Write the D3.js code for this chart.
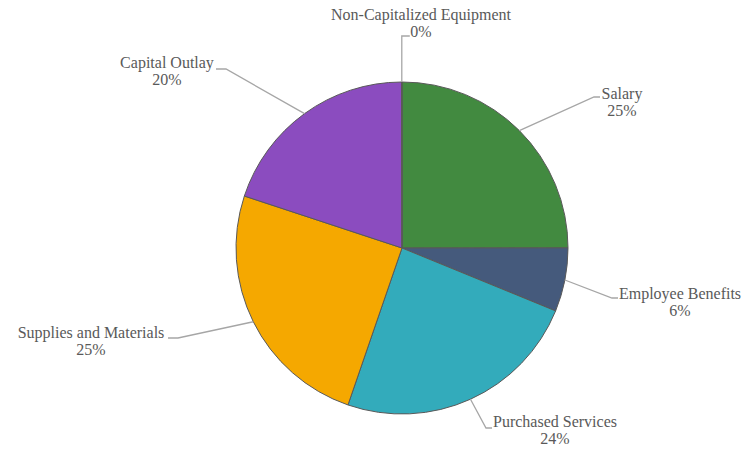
<!DOCTYPE html>
<html>
<head>
<meta charset="utf-8">
<script src="https://cdn.jsdelivr.net/npm/d3@7"></script>
<style>
  html, body { margin: 0; padding: 0; background: #fff; }
  svg { display: block; }
  text { font-family: "Liberation Serif", "Times New Roman", Times, serif; }
</style>
</head>
<body>
<svg id="chart" width="752" height="452"></svg>
<script>
// Budget share by expense category (percent), clockwise from 12 o'clock
const categories = ["Salary", "Employee Benefits", "Purchased Services", "Supplies and Materials", "Capital Outlay", "Non-Capitalized Equipment"];
const shares = [25.0, 6.2, 24.1, 24.8, 19.9, 0.04];
const shareLabels = ["25%", "6%", "24%", "25%", "20%", "0%"];
const colors = ["#428a40", "#455a7c", "#33abbb", "#f5a800", "#8b4cbf", "#c0504d"];

// Label placement: elbow point of each leader and which side the text sits on
const labelLayout = [
  { elbow: [594, 97],  side: "right", text: [622, 100] },
  { elbow: [612, 298], side: "right", text: [680, 300] },
  { elbow: [486, 428], side: "right", text: [555, 428] },
  { elbow: [178, 338], side: "left",  text: [91, 339] },
  { elbow: [226, 69],  side: "left",  text: [167, 69] },
  { elbow: [402, 36],  side: "up",    text: [421, 21] }
];

const svg = d3.select("#chart");
const cx = 402, cy = 248, radius = 166;

const data = categories.map((c, i) => ({ name: c, value: shares[i], label: shareLabels[i], color: colors[i], layout: labelLayout[i] }));

const pie = d3.pie().sort(null).value(d => d.value);
const arc = d3.arc().innerRadius(0).outerRadius(radius);
const arcs = pie(data);

const g = svg.append("g").attr("transform", `translate(${cx},${cy})`);

g.selectAll("path.slice")
  .data(arcs)
  .join("path")
  .attr("class", "slice")
  .attr("d", arc)
  .attr("fill", d => d.data.color)
  .attr("stroke", "#595959")
  .attr("stroke-width", 1);

// Leader lines: from slice edge at mid-angle, to the elbow, then a short horizontal tick
const edge = d3.arc().innerRadius(radius).outerRadius(radius);
arcs.forEach(a => {
  const [ex, ey] = edge.centroid(a);
  const p0 = [cx + ex, cy + ey];
  const L = a.data.layout;
  let pts;
  if (L.side === "up") {
    pts = [p0, [p0[0], L.elbow[1]], [p0[0] + 8, L.elbow[1]]];
  } else if (L.side === "right") {
    pts = [p0, L.elbow, [L.elbow[0] + 6, L.elbow[1]]];
  } else {
    pts = [p0, L.elbow, [L.elbow[0] - 10, L.elbow[1]]];
  }
  svg.append("path")
    .attr("d", d3.line()(pts))
    .attr("fill", "none")
    .attr("stroke", "#a6a6a6")
    .attr("stroke-width", 1.3);
});

// Two-line labels: category name and percent
arcs.forEach(a => {
  const L = a.data.layout;
  const t = svg.append("text")
    .attr("x", L.text[0])
    .attr("y", L.text[1])
    .attr("text-anchor", "middle")
    .attr("font-size", 16)
    .attr("fill", "#595959");
  t.append("tspan").attr("x", L.text[0]).attr("dy", "-0.05em").text(a.data.name);
  t.append("tspan").attr("x", L.side === "up" ? L.text[0] : L.text[0]).attr("dy", 17).text(a.data.label);
});
</script>
</body>
</html>
